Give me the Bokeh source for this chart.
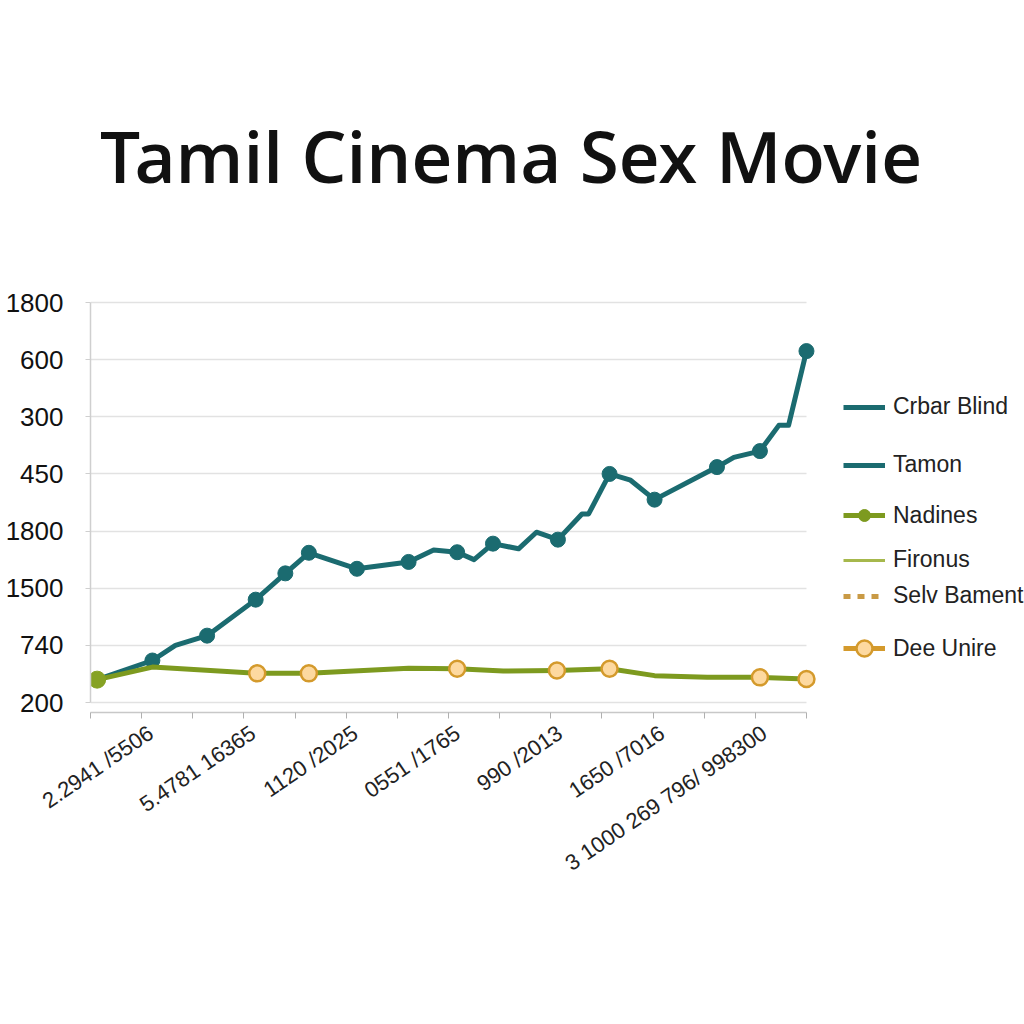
from bokeh.plotting import figure
from bokeh.models import FixedTicker, Range1d, Label, Legend, LegendItem, LinearAxis
from bokeh.embed import file_html
from bokeh.resources import INLINE

# ---------------- data ----------------
title_text = "Tamil Cinema Sex Movie"

y_ticks = [0, 1, 2, 3, 4, 5, 6, 7]
y_tick_labels = ["200", "740", "1500", "1800", "450", "300", "600", "1800"]

x_ticks = list(range(15))
x_label_ticks = [1, 3, 5, 7, 9, 11, 13]
x_tick_labels = ["2.2941 /5506", "5.4781 16365", "1120 /2025", "0551 /1765",
                 "990 /2013", "1650 /7016", "3 1000 269 796/ 998300"]

teal_x = [0.13, 1.21, 1.66, 2.28, 3.23, 3.81, 4.27, 5.21, 6.22, 6.71, 7.17, 7.50, 7.87, 8.37,
          8.72, 9.14, 9.61, 9.74, 10.15, 10.56, 11.03, 12.25, 12.58, 13.09, 13.46, 13.65, 14.0]
teal_y = [0.40, 0.735, 1.00, 1.17, 1.80, 2.26, 2.62, 2.34, 2.46, 2.67, 2.63, 2.50, 2.78, 2.69,
          2.98, 2.85, 3.30, 3.30, 4.00, 3.89, 3.55, 4.12, 4.29, 4.40, 4.85, 4.85, 6.15]
teal_marker_idx = [1, 3, 4, 5, 6, 7, 8, 10, 12, 15, 18, 20, 21, 23, 26]

green_x = [0.13, 1.21, 3.26, 4.27, 6.22, 7.17, 8.07, 9.12, 10.15, 11.03, 12.06, 13.09, 14.0]
green_y = [0.40, 0.62, 0.51, 0.51, 0.60, 0.59, 0.55, 0.56, 0.59, 0.47, 0.44, 0.44, 0.41]
yellow_marker_idx = [2, 3, 5, 7, 8, 11, 12]

legend_names = ["Crbar Blind", "Tamon", "Nadines", "Fironus", "Selv Bament", "Dee Unire"]

# ---------------- styles ----------------
TEAL = "#1b6b70"
OLIVE = "#7d9a1f"
OLIVE_DOT = "#86a224"
OLIVE_LIGHT = "#a6b84c"
GOLD = "#d49a2c"
GOLD_DASH = "#c99a45"
CREAM = "#fdd9a0"
FONT = "Liberation Sans"
NAN = float("nan")

PX_X = 51.14   # pixels per x unit
PX_Y = 57.14   # pixels per y unit
FRAME_L, FRAME_B = 90, 712
X0_PX, Y0_PX = 90, 702

p = figure(width=1024, height=1024, output_backend="svg", toolbar_location=None,
           x_range=Range1d(-(X0_PX - FRAME_L) / PX_X, (1024 - X0_PX) / PX_X),
           y_range=Range1d(-(FRAME_B - Y0_PX) / PX_Y, Y0_PX / PX_Y),
           min_border_left=FRAME_L, min_border_right=0,
           min_border_top=0, min_border_bottom=1024 - FRAME_B)
p.outline_line_color = None
p.background_fill_color = "white"
p.border_fill_color = "white"

# tick axis (marks only)
xa = p.xaxis[0]
xa.ticker = FixedTicker(ticks=x_ticks)
xa.major_label_overrides = {t: "" for t in x_ticks}
xa.axis_line_color = "#c8c8c8"
xa.axis_line_width = 1.5
xa.major_tick_out = 6
xa.major_tick_in = 0
xa.major_tick_line_color = "#b0b0b0"
xa.minor_tick_line_color = None
xa.major_label_standoff = 0
xa.bounds = (0, 14)

# label axis (labels only)
label_pos = [t + 0.18 for t in x_label_ticks]
xl = LinearAxis(ticker=FixedTicker(ticks=label_pos),
                major_label_overrides={t: lab for t, lab in zip(label_pos, x_tick_labels)},
                axis_line_color=None, major_tick_line_color=None, minor_tick_line_color=None,
                major_tick_out=0, major_tick_in=0, major_label_standoff=12,
                major_label_orientation=0.6,
                major_label_text_font=FONT, major_label_text_font_size="22px",
                major_label_text_color="#222222")
p.add_layout(xl, "below")

ya = p.yaxis[0]
ya.ticker = FixedTicker(ticks=y_ticks)
ya.major_label_overrides = {t: lab for t, lab in zip(y_ticks, y_tick_labels)}
ya.major_label_text_font = FONT
ya.major_label_text_font_size = "26px"
ya.major_label_text_color = "#111111"
ya.axis_line_color = "#cfcfcf"
ya.axis_line_width = 1.5
ya.major_tick_out = 5
ya.major_tick_in = 0
ya.major_tick_line_color = "#cfcfcf"
ya.minor_tick_line_color = None
ya.major_label_standoff = 22
ya.bounds = (0, 7)

p.xgrid.visible = False
p.ygrid.ticker = FixedTicker(ticks=y_ticks)
p.ygrid.grid_line_color = "#e2e2e2"
p.ygrid.grid_line_width = 1.5
p.ygrid.bounds = (0, 7)
p.ygrid.cross_bounds = (0, 14)

# ---------------- series ----------------
p.line(teal_x, teal_y, line_color=TEAL, line_width=5, line_join="round")
p.scatter([teal_x[i] for i in teal_marker_idx], [teal_y[i] for i in teal_marker_idx],
          size=15, fill_color=TEAL, line_color=TEAL)
p.line(green_x, green_y, line_color=OLIVE, line_width=5, line_join="round")
p.scatter([green_x[i] for i in yellow_marker_idx], [green_y[i] for i in yellow_marker_idx],
          size=16, fill_color=CREAM, line_color=GOLD, line_width=2.5)
p.scatter([green_x[0]], [green_y[0]], size=17, fill_color=OLIVE_DOT, line_color=OLIVE_DOT)

# ---------------- title ----------------
p.add_layout(Label(x=510.5 - FRAME_L, y=FRAME_B - 186 + 31, x_units="screen", y_units="screen",
                   text=title_text, text_align="center", text_baseline="alphabetic",
                   text_font="Open Sans SemiBold, Open Sans", text_font_style="normal",
                   text_font_size="71px", text_color="#111111"))

# ---------------- legends ----------------
legend_centers = [410, 468, 515, 563, 599, 648]
legend_glyph_h = [20, 20, 30, 20, 20, 40]
leg_renderers = [
    [p.line([NAN], [NAN], line_color=TEAL, line_width=5)],
    [p.line([NAN], [NAN], line_color=TEAL, line_width=5)],
    [p.line([NAN], [NAN], line_color=OLIVE, line_width=5),
     p.scatter([NAN], [NAN], fill_color=OLIVE, line_color=OLIVE)],
    [p.line([NAN], [NAN], line_color=OLIVE_LIGHT, line_width=3)],
    [p.line([NAN], [NAN], line_color=GOLD_DASH, line_width=5, line_dash="7 7")],
    [p.line([NAN], [NAN], line_color=GOLD, line_width=5),
     p.scatter([NAN], [NAN], fill_color=CREAM, line_color=GOLD, line_width=2.5)],
]
for name, rs, cy, gh in zip(legend_names, leg_renderers, legend_centers, legend_glyph_h):
    leg = Legend(items=[LegendItem(label=name, renderers=rs)],
                 location=(843 - FRAME_L, FRAME_B - cy - gh / 2),
                 padding=0, margin=0, spacing=0,
                 border_line_color=None, background_fill_alpha=0,
                 glyph_width=42, glyph_height=gh, label_height=gh, label_standoff=8,
                 label_text_font=FONT, label_text_font_size="23px",
                 label_text_color="#222222", label_text_baseline="middle")
    p.add_layout(leg)

open("out.html", "w").write(file_html(p, INLINE))
